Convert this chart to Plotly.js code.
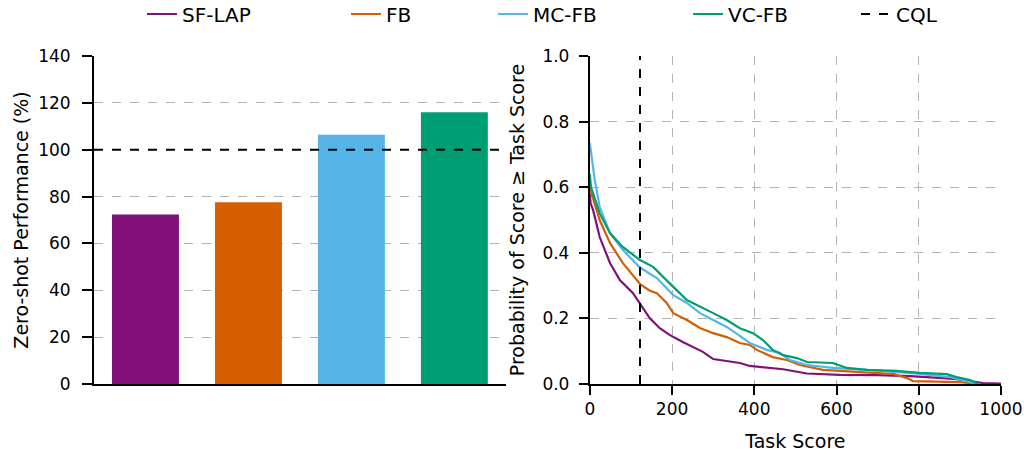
<!DOCTYPE html>
<html>
<head>
<meta charset="utf-8">
<script src="https://cdn.plot.ly/plotly-3.0.1.min.js"></script>
<style>html,body{margin:0;padding:0;background:#fff}#chart{width:1024px;height:454px}</style>
</head>
<body>
<div id="chart"></div>
<script>
// ---- data ----
const methods = ['SF-LAP', 'FB', 'MC-FB', 'VC-FB'];
const colors = ['#82107a', '#d55e00', '#56b4e9', '#009e73'];
const zeroShotPerf = [72.3, 77.6, 106.4, 116.0];
const cqlPerf = 100;
const cqlScore = 122;

const sflapScore = [0, 2, 8, 24, 49, 73, 105, 122, 146, 170, 195, 226, 251, 275, 300, 333, 365, 389, 430, 470, 528, 608, 700, 779, 859, 892, 925, 956, 1000];
const sflapProb  = [0.58, 0.55, 0.53, 0.448, 0.369, 0.317, 0.277, 0.245, 0.2, 0.17, 0.149, 0.128, 0.113, 0.098, 0.076, 0.07, 0.064, 0.055, 0.049, 0.045, 0.032, 0.028, 0.027, 0.024, 0.018, 0.015, 0.009, 0.003, 0.001];

const fbScore = [0, 2, 24, 49, 80, 122, 145, 163, 187, 203, 236, 268, 300, 333, 365, 389, 406, 445, 479, 511, 567, 657, 740, 771, 786, 900, 940];
const fbProb  = [0.61, 0.59, 0.50, 0.43, 0.369, 0.305, 0.285, 0.277, 0.247, 0.216, 0.195, 0.171, 0.155, 0.143, 0.125, 0.119, 0.104, 0.082, 0.073, 0.058, 0.043, 0.036, 0.03, 0.018, 0.009, 0.006, 0.0];

const mcfbScore = [0, 5, 12, 24, 49, 80, 122, 163, 203, 236, 268, 300, 333, 365, 389, 430, 462, 487, 528, 591, 674, 790, 876, 917, 940];
const mcfbProb  = [0.735, 0.68, 0.622, 0.54, 0.46, 0.409, 0.355, 0.323, 0.271, 0.247, 0.216, 0.195, 0.174, 0.147, 0.125, 0.104, 0.095, 0.073, 0.058, 0.049, 0.043, 0.032, 0.021, 0.009, 0.0];

const vcfbScore = [0, 3, 24, 49, 80, 122, 154, 178, 203, 236, 268, 300, 333, 365, 397, 421, 445, 470, 504, 528, 591, 625, 674, 746, 803, 868, 892, 925, 945];
const vcfbProb  = [0.64, 0.60, 0.52, 0.46, 0.418, 0.378, 0.357, 0.326, 0.296, 0.256, 0.235, 0.216, 0.195, 0.17, 0.155, 0.134, 0.104, 0.088, 0.079, 0.067, 0.064, 0.049, 0.043, 0.04, 0.034, 0.03, 0.021, 0.012, 0.0];

const legendNames = ['SF-LAP', 'FB', 'MC-FB', 'VC-FB', 'CQL'];
const yTicksLeft = [0, 20, 40, 60, 80, 100, 120, 140];
const yTicksRight = [0, 0.2, 0.4, 0.6, 0.8, 1.0];
const xTicksRight = [0, 200, 400, 600, 800, 1000];

// ---- traces ----
const FONT = 'DejaVu Sans, sans-serif';
const legendIds = ['legend', 'legend2', 'legend3', 'legend4', 'legend5'];
const traces = [];
traces.push({
  type: 'bar', x: methods, y: zeroShotPerf, width: 0.65,
  marker: {color: colors, line: {width: 0}},
  xaxis: 'x', yaxis: 'y', showlegend: false, hoverinfo: 'skip'
});
const curves = [[sflapScore, sflapProb], [fbScore, fbProb], [mcfbScore, mcfbProb], [vcfbScore, vcfbProb]];
curves.forEach((c, i) => {
  traces.push({
    type: 'scatter', mode: 'lines', x: c[0], y: c[1], name: legendNames[i],
    line: {color: colors[i], width: 2.2},
    xaxis: 'x2', yaxis: 'y2', legend: legendIds[i]
  });
});
traces.push({
  type: 'scatter', mode: 'lines', x: [cqlScore, cqlScore], y: [0, 1], name: legendNames[4],
  line: {color: '#000', width: 2, dash: 'dash'}, xaxis: 'x2', yaxis: 'y2', legend: legendIds[4]
});

const gridStyle = {showgrid: true, gridcolor: '#b3b3b3', griddash: 'dash', gridwidth: 1};
const layout = {
  width: 1024, height: 454,
  margin: {l: 0, r: 0, t: 0, b: 0, autoexpand: false},
  paper_bgcolor: '#fff', plot_bgcolor: '#fff',
  font: {family: FONT, size: 17, color: '#000'},
  showlegend: true,
  xaxis: {domain: [0.0918, 0.494], range: [-0.5, 3.5], showticklabels: false, ticks: '',
          showgrid: false, showline: true, linecolor: '#000', linewidth: 2, zeroline: false, fixedrange: true},
  yaxis: Object.assign({domain: [0.1542, 0.8767], range: [0, 140], tickvals: yTicksLeft,
          ticks: 'outside', ticklen: 10, tickwidth: 2, tickcolor: '#000',
          showline: true, linecolor: '#000', linewidth: 2, zeroline: false,
          ticklabelstandoff: 8,
          tickfont: {family: FONT, size: 17},
          title: {text: 'Zero-shot Performance (%)', font: {family: FONT, size: 19}, standoff: 4}}, gridStyle),
  xaxis2: Object.assign({domain: [0.576, 0.9775], range: [0, 1000], tickvals: xTicksRight, anchor: 'y2',
          ticks: 'outside', ticklen: 9, tickwidth: 2, tickcolor: '#000',
          showline: true, linecolor: '#000', linewidth: 2, zeroline: false,
          tickfont: {family: FONT, size: 17},
          title: {text: 'Task Score', font: {family: FONT, size: 19}, standoff: 16}}, gridStyle),
  yaxis2: Object.assign({domain: [0.1542, 0.8767], range: [0, 1], tickvals: yTicksRight, anchor: 'x2',
          tickformat: '.1f',
          ticks: 'outside', ticklen: 9, tickwidth: 2, tickcolor: '#000',
          showline: true, linecolor: '#000', linewidth: 2, zeroline: false,
          ticklabelstandoff: 6,
          tickfont: {family: FONT, size: 17},
          title: {text: 'Probability of Score ≥ Task Score', font: {family: FONT, size: 19}, standoff: 13}}, gridStyle),
  shapes: [{type: 'line', xref: 'x domain', x0: 0, x1: 1, yref: 'y', y0: cqlPerf, y1: cqlPerf,
            line: {color: '#000', width: 2, dash: 'dash'}}]
};
// one legend box per entry so spacing follows the reference
const textStarts = [183, 387, 534, 729, 897];
legendIds.forEach((id, i) => {
  layout[id] = {orientation: 'h', x: (textStarts[i] - 41) / 1024, xanchor: 'left',
                y: 1 - 14 / 454, yanchor: 'middle', font: {family: FONT, size: 20},
                bgcolor: 'rgba(0,0,0,0)', borderwidth: 0};
});

Plotly.newPlot('chart', traces, layout, {staticPlot: true, displayModeBar: false});
</script>
</body>
</html>
